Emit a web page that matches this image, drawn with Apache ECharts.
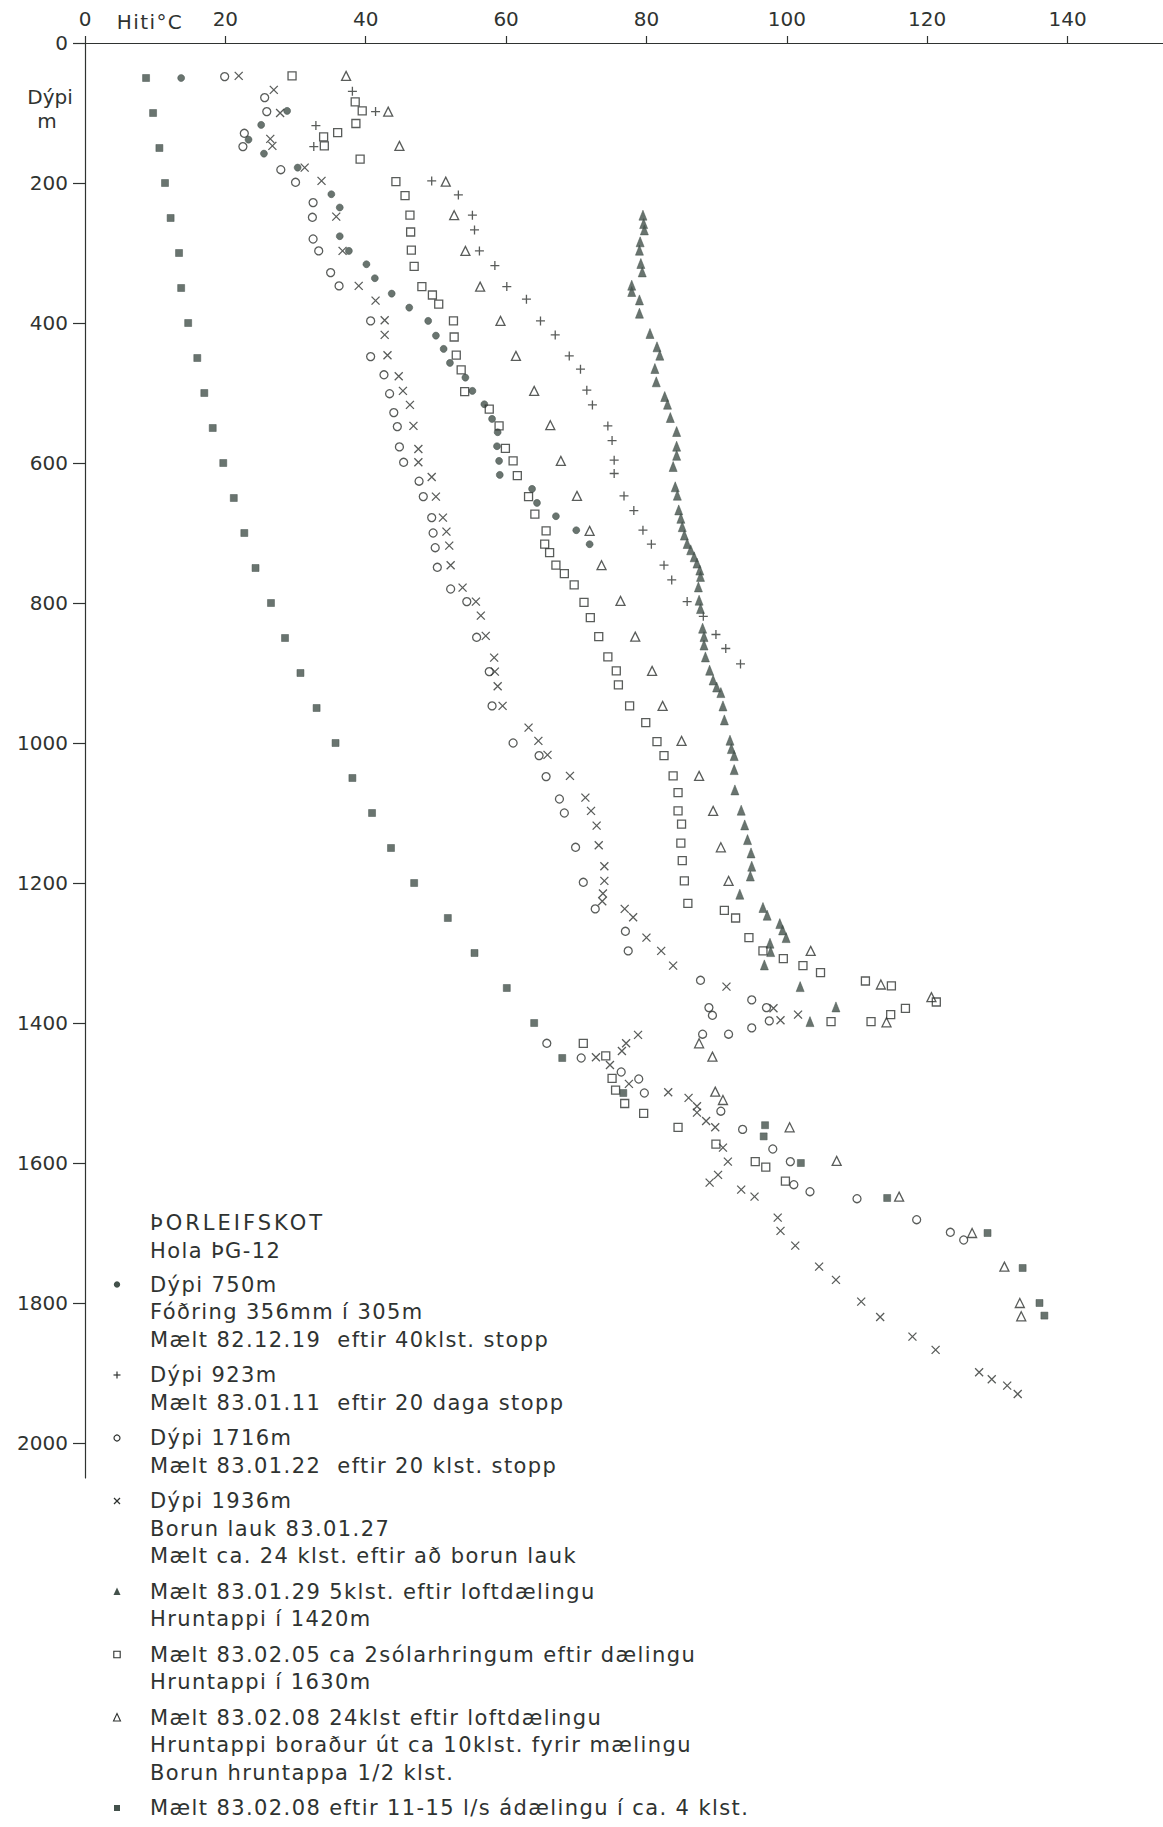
<!DOCTYPE html>
<html>
<head>
<meta charset="utf-8">
<script src="https://cdn.jsdelivr.net/npm/echarts@6.0.0/dist/echarts.min.js"></script>
<style>
  html, body { margin: 0; padding: 0; background: #ffffff; }
  #chart { width: 1163px; height: 1827px; }
</style>
</head>
<body>
<div id="chart"></div>
<script>
// Temperature logs in well ÞG-12, Þorleifskot: [temperature °C, depth m]
const tickTemp = [0, 20, 40, 60, 80, 100, 120, 140];
const tickDepth = [0, 200, 400, 600, 800, 1000, 1200, 1400, 1600, 1800, 2000];

// Dýpi 750m, 82.12.19
const log821219 = [[13.7,50],[28.8,97],[25.1,117],[23.3,138],[25.5,158],[30.3,178],[35.1,216],[36.3,235],[36.3,276],[37.6,297],[40.1,316],[41.3,336],[43.7,358],[46.2,378],[48.9,397],[50,418],[51.1,437],[52,457],[54.2,478],[55.2,497],[56.9,516],[58,537],[58.8,556],[58.7,576],[59,597],[59.1,617],[63.7,637],[64.4,657],[67.1,676],[70,696],[71.9,716]];

// Dýpi 923m, 83.01.11
const log830111 = [[38.1,69],[41.4,98],[32.9,118],[32.6,148],[49.4,197],[53.2,217],[55.2,246],[55.5,267],[56.2,297],[58.4,318],[60.1,348],[62.9,366],[64.9,397],[67,417],[69,447],[70.6,466],[71.5,496],[72.3,517],[74.5,547],[75.1,568],[75.4,596],[75.4,615],[76.8,647],[78.2,668],[79.5,696],[80.7,716],[82.5,746],[83.6,767],[85.8,798],[88.1,819],[89.9,845],[91.3,865],[93.4,887]];

// Dýpi 1716m, 83.01.22
const log830122 = [[19.9,48],[25.6,78],[25.9,98],[22.7,129],[22.5,148],[27.9,181],[30,199],[32.5,228],[32.4,249],[32.5,280],[33.3,297],[35,328],[36.2,347],[40.7,397],[40.7,448],[42.6,474],[43.4,501],[44,528],[44.5,548],[44.8,577],[45.4,599],[47.6,626],[48.2,648],[49.4,678],[49.6,700],[49.9,721],[50.2,749],[52.1,780],[54.4,798],[55.8,849],[57.6,898],[58,947],[61,1000],[64.7,1018],[65.7,1048],[67.6,1080],[68.3,1100],[69.9,1149],[71,1199],[72.7,1237],[77,1269],[77.4,1297],[87.7,1339],[95,1367],[88.9,1378],[89.4,1389],[97.1,1378],[97.5,1397],[95,1407],[91.7,1416],[88,1416],[65.8,1429],[70.7,1450],[76.4,1470],[78.9,1480],[79.7,1500],[90.6,1526],[93.7,1552],[98,1580],[100.5,1598],[101,1631],[103.3,1641],[110,1651],[118.5,1681],[123.3,1699],[125.2,1710]];

// Dýpi 1936m, 24 klst. eftir að borun lauk
const log830128 = [[21.9,47],[26.9,67],[27.8,100],[26.4,137],[26.7,147],[31.3,178],[33.7,197],[35.8,248],[36.7,297],[39,347],[41.4,368],[42.7,396],[42.7,417],[43.1,446],[44.7,476],[45.3,497],[46.3,517],[46.8,547],[47.5,580],[47.5,599],[49.4,620],[50,648],[51,678],[51.5,698],[51.9,718],[52.1,746],[53.8,778],[55.7,798],[56.4,818],[57.1,847],[58.3,878],[58.4,898],[58.8,919],[59.5,947],[63.2,978],[64.6,997],[65.9,1017],[69.1,1047],[71.3,1078],[72.1,1097],[72.9,1118],[73.2,1146],[74,1176],[74,1197],[73.8,1215],[73.7,1226],[76.9,1237],[78.1,1249],[80,1278],[82.1,1297],[83.8,1318],[91.4,1348],[98.1,1379],[99.1,1396],[101.6,1388],[78.8,1417],[77.1,1429],[76.5,1440],[72.8,1449],[74.8,1460],[77.5,1487],[83.1,1499],[86,1507],[87.2,1519],[87.2,1528],[88.5,1540],[89.8,1549],[90.9,1578],[91.6,1598],[90.2,1617],[89,1628],[93.5,1638],[95.4,1648],[98.7,1678],[99.1,1697],[101.2,1718],[104.6,1748],[107,1767],[110.6,1798],[113.3,1820],[117.9,1848],[121.2,1867],[127.4,1899],[129.2,1909],[131.4,1918],[132.9,1930]];

// 83.01.29, 5 klst. eftir loftdælingu
const log830129 = [[79.5,246],[79.6,258],[79.7,267],[79.1,284],[79,296],[79.2,315],[79.4,327],[77.9,346],[77.9,355],[79,367],[79,386],[80.5,415],[81.5,434],[81.9,446],[81.2,465],[81.4,484],[82.6,505],[83,516],[83.4,535],[84.3,555],[84.3,576],[84.3,589],[83.8,605],[84.1,634],[84.4,646],[84.6,667],[84.9,679],[85.1,691],[85.4,703],[85.8,715],[86.3,724],[86.8,734],[87.2,743],[87.6,753],[87.7,762],[87.4,777],[87.5,796],[87.7,808],[88,836],[88.2,848],[88.2,860],[88.4,877],[89,896],[89.5,910],[90,920],[90.6,928],[90.9,947],[91.1,967],[91.9,996],[92.1,1008],[92.5,1018],[92.5,1038],[92.6,1067],[93.5,1096],[94,1117],[94.4,1138],[94.9,1157],[95,1176],[94.8,1190],[93.3,1216],[96.6,1235],[97.2,1246],[99,1258],[99.4,1267],[99.9,1278],[97.6,1286],[97.7,1298],[96.8,1317],[101.9,1348],[107,1377],[103.3,1398]];

// 83.02.05, ca 2 sólarhringum eftir dælingu
const log830205 = [[29.5,47],[38.5,84],[39.5,97],[38.6,115],[36,128],[34,134],[34.1,147],[39.2,166],[44.3,198],[45.6,218],[46.3,246],[46.4,270],[46.5,296],[46.9,319],[48,348],[49.5,360],[50.4,373],[52.5,397],[52.6,420],[52.9,446],[53.6,467],[54.1,498],[57.6,523],[59,547],[59.9,579],[61,597],[61.6,618],[63.2,648],[64.1,673],[65.7,697],[65.5,716],[66.2,728],[67.1,746],[68.3,758],[69.7,774],[71.1,799],[72,821],[73.2,848],[74.5,877],[75.7,897],[76,917],[77.6,947],[79.9,971],[81.5,998],[82.5,1018],[83.8,1047],[84.5,1071],[84.5,1097],[85,1116],[84.9,1143],[85.1,1168],[85.4,1197],[85.9,1229],[91.1,1239],[92.7,1250],[94.6,1278],[96.6,1297],[99.5,1308],[102.3,1318],[104.8,1328],[111.2,1340],[114.9,1347],[121.3,1370],[116.9,1379],[114.8,1388],[106.3,1398],[112,1398],[71,1429],[74.2,1447],[75.1,1479],[75.6,1496],[76.9,1515],[79.6,1529],[84.5,1549],[89.9,1573],[95.5,1598],[97,1606],[99.8,1626]];

// 83.02.08, 24 klst. eftir loftdælingu
const log830208a = [[37.2,47],[43.2,98],[44.8,147],[51.4,198],[52.6,246],[54.2,297],[56.3,348],[59.2,397],[61.4,447],[64,497],[66.3,546],[67.8,597],[70.1,647],[71.9,697],[73.6,746],[76.3,797],[78.4,848],[80.8,897],[82.3,947],[85,997],[87.5,1047],[89.5,1097],[90.6,1149],[91.7,1197],[103.4,1297],[113.4,1345],[120.6,1363],[114.2,1399],[87.5,1429],[89.4,1448],[89.8,1498],[90.9,1510],[100.4,1549],[107.1,1597],[116,1648],[126.4,1700],[131,1748],[133.2,1800],[133.4,1819]];

// 83.02.08, eftir 11-15 l/s ádælingu
const log830208b = [[8.7,50],[9.7,100],[10.6,150],[11.4,200],[12.2,250],[13.4,300],[13.7,350],[14.7,400],[16,450],[17,500],[18.2,550],[19.7,600],[21.2,650],[22.7,700],[24.3,750],[26.5,800],[28.5,850],[30.7,900],[33,950],[35.7,1000],[38.1,1050],[40.9,1100],[43.6,1150],[46.9,1200],[51.7,1250],[55.5,1300],[60.1,1350],[64,1400],[68,1450],[76.7,1500],[96.9,1546],[96.7,1562],[102,1600],[114.3,1650],[128.6,1700],[133.6,1750],[136,1800],[136.7,1818]];

const legendTitle = ['ÞORLEIFSKOT', 'Hola ÞG-12'];
const legendBlocks = [
  { mark: 'dot',    lines: ['Dýpi 750m', 'Fóðring 356mm í 305m', 'Mælt 82.12.19  eftir 40klst. stopp'] },
  { mark: 'plus',   lines: ['Dýpi 923m', 'Mælt 83.01.11  eftir 20 daga stopp'] },
  { mark: 'ring',   lines: ['Dýpi 1716m', 'Mælt 83.01.22  eftir 20 klst. stopp'] },
  { mark: 'cross',  lines: ['Dýpi 1936m', 'Borun lauk 83.01.27', 'Mælt ca. 24 klst. eftir að borun lauk'] },
  { mark: 'tri',    lines: ['Mælt 83.01.29 5klst. eftir loftdælingu', 'Hruntappi í 1420m'] },
  { mark: 'box',    lines: ['Mælt 83.02.05 ca 2sólarhringum eftir dælingu', 'Hruntappi í 1630m'] },
  { mark: 'opentri',lines: ['Mælt 83.02.08 24klst eftir loftdælingu', 'Hruntappi boraður út ca 10klst. fyrir mælingu', 'Borun hruntappa 1/2 klst.'] },
  { mark: 'block',  lines: ['Mælt 83.02.08 eftir 11-15 l/s ádælingu í ca. 4 klst.'] }
];

const INK = '#2f3331';
const FILL = '#43514b';
const FONT = 'DejaVu Sans';

const chart = echarts.init(document.getElementById('chart'), null, { renderer: 'svg' });

function scatter(name, data, symbol, size, filled) {
  return {
    name, type: 'scatter', data, symbol, symbolSize: size,
    itemStyle: filled
      ? { color: FILL, borderColor: FILL, borderWidth: 0.6 }
      : { color: 'rgba(0,0,0,0)', borderColor: INK, borderWidth: 1.3 },
    emphasis: { disabled: true },
    z: 3
  };
}

// legend drawn as plain graphics under the plot
const gfx = [];
const textStyle = (t, x, y) => ({
  type: 'text', x, y,
  style: { text: t, fill: INK, font: '21px "' + FONT + '"', verticalAlign: 'middle', align: 'left' }
});
const TX = 150, MX = 117, STEP = 27.5, GAP = 35.5;
let y = 1223;
legendTitle.forEach((t, i) => { gfx.push(textStyle(t, TX, y)); if (i < legendTitle.length - 1) y += STEP; });
y += 34;
legendBlocks.forEach((b) => {
  const my = y;
  switch (b.mark) {
    case 'dot':   gfx.push({ type: 'circle', shape: { cx: MX, cy: my, r: 3.2 }, style: { fill: FILL } }); break;
    case 'ring':  gfx.push({ type: 'circle', shape: { cx: MX, cy: my, r: 3 }, style: { fill: 'none', stroke: INK, lineWidth: 1.2 } }); break;
    case 'plus':
      gfx.push({ type: 'line', shape: { x1: MX - 3.5, y1: my, x2: MX + 3.5, y2: my }, style: { stroke: INK, lineWidth: 1.2 } });
      gfx.push({ type: 'line', shape: { x1: MX, y1: my - 3.5, x2: MX, y2: my + 3.5 }, style: { stroke: INK, lineWidth: 1.2 } });
      break;
    case 'cross':
      gfx.push({ type: 'line', shape: { x1: MX - 3, y1: my - 3, x2: MX + 3, y2: my + 3 }, style: { stroke: INK, lineWidth: 1.2 } });
      gfx.push({ type: 'line', shape: { x1: MX + 3, y1: my - 3, x2: MX - 3, y2: my + 3 }, style: { stroke: INK, lineWidth: 1.2 } });
      break;
    case 'tri':   gfx.push({ type: 'polygon', shape: { points: [[MX, my - 4], [MX + 3.5, my + 3.5], [MX - 3.5, my + 3.5]] }, style: { fill: FILL } }); break;
    case 'opentri': gfx.push({ type: 'polygon', shape: { points: [[MX, my - 4], [MX + 3.5, my + 3.5], [MX - 3.5, my + 3.5]] }, style: { fill: 'none', stroke: INK, lineWidth: 1.1 } }); break;
    case 'box':   gfx.push({ type: 'rect', shape: { x: MX - 3.2, y: my - 3.2, width: 6.4, height: 6.4 }, style: { fill: 'none', stroke: INK, lineWidth: 1.1 } }); break;
    case 'block': gfx.push({ type: 'rect', shape: { x: MX - 3, y: my - 3, width: 6, height: 6 }, style: { fill: FILL } }); break;
  }
  b.lines.forEach((t, i) => { gfx.push(textStyle(t, TX, y)); if (i < b.lines.length - 1) y += STEP; });
  y += GAP;
});

// axis captions
gfx.push({ type: 'text', x: 150, y: 22, style: { text: 'Hiti°C', fill: INK, font: '20px "' + FONT + '"', align: 'center', verticalAlign: 'middle' } });
gfx.push({ type: 'text', x: 50, y: 97, style: { text: 'Dýpi', fill: INK, font: '20px "' + FONT + '"', align: 'center', verticalAlign: 'middle' } });
gfx.push({ type: 'text', x: 47, y: 121, style: { text: 'm', fill: INK, font: '20px "' + FONT + '"', align: 'center', verticalAlign: 'middle' } });

const axisText = { color: INK, fontFamily: FONT, fontSize: 20, formatter: (v) => String(v) };

chart.setOption({
  animation: false,
  backgroundColor: '#ffffff',
  grid: { left: 85, top: 43, width: 1078, height: 1435, containLabel: false },
  xAxis: {
    type: 'value', position: 'top', min: 0, max: 153.6, interval: 20,
    axisLine: { show: true, lineStyle: { color: INK, width: 1.2 } },
    axisTick: { show: true, length: 7, lineStyle: { color: INK, width: 1.2 }, customValues: tickTemp },
    axisLabel: { ...axisText, margin: 14, customValues: tickTemp },
    splitLine: { show: false }
  },
  yAxis: {
    type: 'value', inverse: true, min: 0, max: 2050, interval: 200,
    axisLine: { show: true, lineStyle: { color: INK, width: 1.2 } },
    axisTick: { show: true, length: 12, lineStyle: { color: INK, width: 1.2 }, customValues: tickDepth },
    axisLabel: { ...axisText, margin: 17, customValues: tickDepth },
    splitLine: { show: false }
  },
  graphic: gfx,
  series: [
    scatter('Dýpi 750m', log821219, 'circle', 7, true),
    scatter('Dýpi 923m', log830111, 'path://M5,0V10M0,5H10', 9, false),
    scatter('Dýpi 1716m', log830122, 'circle', 8, false),
    scatter('Dýpi 1936m', log830128, 'path://M0,0L10,10M10,0L0,10', 8, false),
    scatter('83.01.29', log830129, 'triangle', [8, 10], true),
    scatter('83.02.05', log830205, 'rect', 8, false),
    scatter('83.02.08 loftdæling', log830208a, 'triangle', [9, 9], false),
    scatter('83.02.08 ádæling', log830208b, 'rect', 7, true)
  ]
});

// widen the lettering of the key and the temperature caption
const spacedText = new Set([...legendTitle, ...legendBlocks.flatMap(b => b.lines), 'Hiti°C']);
function spaceLettering() {
  document.querySelectorAll('#chart svg text').forEach(el => {
    if (spacedText.has(el.textContent)) el.setAttribute('letter-spacing', el.textContent === legendTitle[0] ? '3' : '1.4');
  });
}
spaceLettering();
chart.on('finished', spaceLettering);
</script>
</body>
</html>
